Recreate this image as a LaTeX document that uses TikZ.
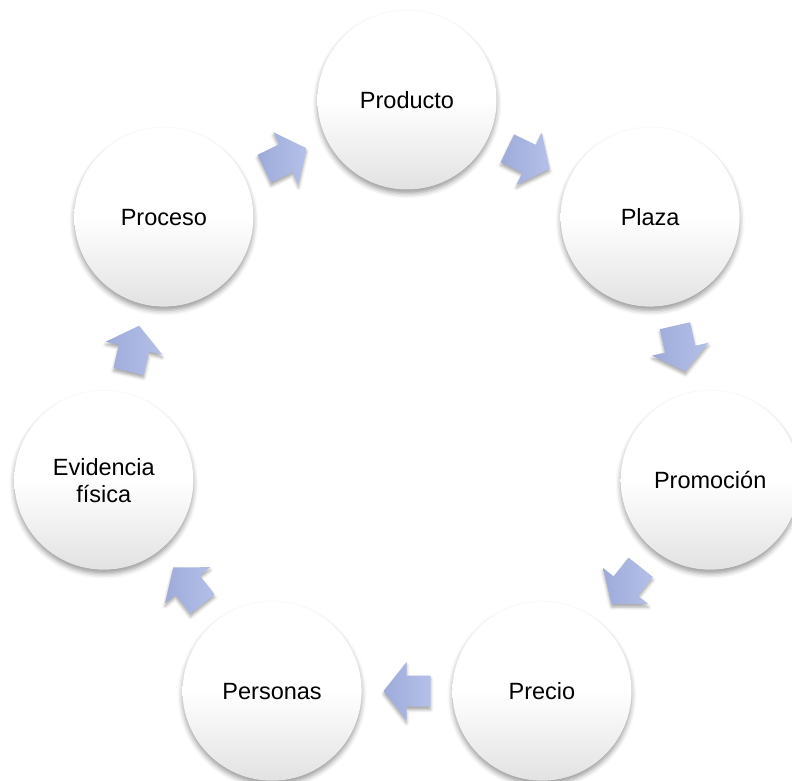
\documentclass[tikz,border=0pt]{standalone}
\usepackage{fontspec}
\setmainfont{Liberation Sans}
\usetikzlibrary{shadows.blur,calc}
\definecolor{arrowtop}{RGB}{180,192,232}
\definecolor{arrowbot}{RGB}{158,171,218}
\definecolor{circbot}{RGB}{226,226,226}
\tikzset{
  ringnode/.style={circle, minimum size=179pt, inner sep=0pt,
    top color=white, bottom color=circbot, middle color=white,
    align=center, font=\fontsize{23.5}{27}\selectfont, text=black,
    blur shadow={shadow xshift=0pt, shadow yshift=-4pt, shadow blur radius=5pt, shadow opacity=40}},
  arrowfill/.style={left color=arrowbot, right color=arrowtop,
    blur shadow={shadow xshift=0pt, shadow yshift=-3pt, shadow blur radius=3pt, shadow opacity=35}}
}
\newcommand\blockarr[3]{%
  \begin{scope}[shift={($(#1)!0.5!(#2)$)}, rotate=#3]
    \path[arrowfill] (23.5,0) -- (0.5,29) -- (0.5,15.5) -- (-23.5,15.5)
      -- (-23.5,-15.5) -- (0.5,-15.5) -- (0.5,-29) -- cycle;
  \end{scope}}
\begin{document}
\begin{tikzpicture}[x=1pt,y=1pt]
\useasboundingbox (0,0) rectangle (792,780);
\coordinate (ctr) at (407,369);
\node[ringnode] (c1) at ($(ctr)+(90:311)$) {Producto};
\node[ringnode] (c2) at ($(ctr)+(38.571:311)$) {Plaza};
\node[ringnode] (c3) at ($(ctr)+(-12.857:311)$) {Promoción};
\node[ringnode] (c4) at ($(ctr)+(-64.286:311)$) {Precio};
\node[ringnode] (c5) at ($(ctr)+(-115.714:311)$) {Personas};
\node[ringnode] (c6) at ($(ctr)+(-167.143:311)$) {Evidencia\\física};
\node[ringnode] (c7) at ($(ctr)+(141.429:311)$) {Proceso};
\blockarr{c1}{c2}{-25.714}
\blockarr{c2}{c3}{-77.143}
\blockarr{c3}{c4}{-128.571}
\blockarr{c4}{c5}{-180}
\blockarr{c5}{c6}{-231.429}
\blockarr{c6}{c7}{-282.857}
\blockarr{c7}{c1}{-334.286}
\end{tikzpicture}
\end{document}
